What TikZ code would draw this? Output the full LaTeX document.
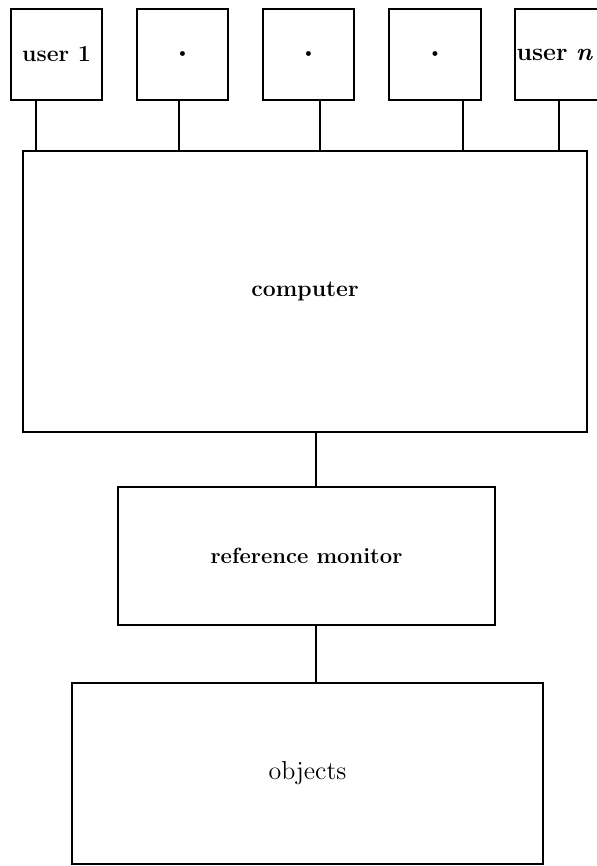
\documentclass[tikz,border=0pt]{standalone}
\begin{document}
\begin{tikzpicture}[x=0.5pt,y=-0.5pt,
  box/.style={draw, line width=0.65pt, inner sep=0pt, font=\fontsize{11.5}{13}\selectfont\bfseries},
  ubox/.style={box, minimum width=45.5pt, minimum height=45.5pt},
  dotbox/.style={ubox, font=\fontsize{3.4}{4}\selectfont},
  link/.style={line width=0.6pt}]
\path[use as bounding box, clip] (0,0) rectangle (597,866);

\node[ubox] (u1) at (56.5,54.5) {user 1};
\node[dotbox] (u2) at (182.5,54.5) {$\bullet$};
\node[dotbox] (u3) at (308.5,54.5) {$\bullet$};
\node[dotbox, minimum width=46pt] (u4) at (435,54.5) {$\bullet$};
\node[ubox, text width=44pt, align=left, inner xsep=0.75pt, font=\fontsize{12.5}{14}\selectfont\bfseries] (u5) at (560.5,54.5) {user \textit{n}};

\node[box, minimum width=282pt, minimum height=140.5pt] (comp) at (305,291.5) {computer};
\node[box, minimum width=188.5pt, minimum height=69pt, font=\fontsize{11}{13}\selectfont\bfseries] (rm) at (306.5,556) {reference monitor};
\node[box, minimum width=235.5pt, minimum height=90.5pt, font=\fontsize{13}{15}\selectfont] (obj) at (307.5,773.5) {objects};

\coordinate (c1) at (36,0);
\coordinate (c2) at (179,0);
\coordinate (c3) at (320,0);
\coordinate (c4) at (463,0);
\coordinate (c5) at (559,0);
\coordinate (cm) at (316,0);

\draw[link] (u1.south -| c1) -- (comp.north -| c1);
\draw[link] (u2.south -| c2) -- (comp.north -| c2);
\draw[link] (u3.south -| c3) -- (comp.north -| c3);
\draw[link] (u4.south -| c4) -- (comp.north -| c4);
\draw[link] (u5.south -| c5) -- (comp.north -| c5);
\draw[link] (comp.south -| cm) -- (rm.north -| cm);
\draw[link] (rm.south -| cm) -- (obj.north -| cm);
\end{tikzpicture}
\end{document}
